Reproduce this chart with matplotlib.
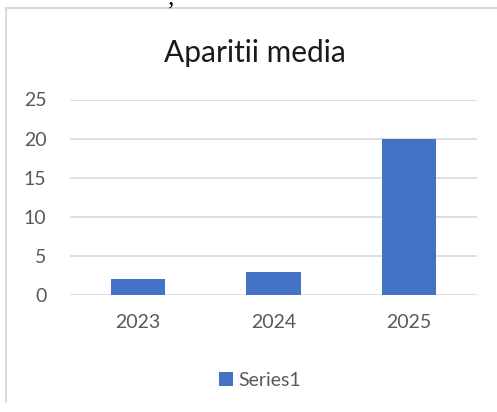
import matplotlib
matplotlib.use("Agg")
import matplotlib.pyplot as plt
from matplotlib.lines import Line2D
import numpy as np

years = ["2023", "2024", "2025"]
values = [2, 3, 20]
series_name = "Series1"
title = "Aparitii media"
y_ticks = [0, 5, 10, 15, 20, 25]

W, H, DPI = 497, 412, 100
bar_color = "#4472C4"
grid_color = "#D9D9D9"
text_color = "#595959"

plt.rcParams["font.family"] = ["Lato", "DejaVu Sans"]

fig = plt.figure(figsize=(W / DPI, H / DPI), dpi=DPI)
ax = fig.add_axes([70 / W, 1 - 295 / H, 407 / W, 195.5 / H])

x = np.arange(len(years))
bars = ax.bar(x, values, width=0.4, color=bar_color, zorder=3, label=series_name)

ax.set_xlim(-0.5, len(years) - 0.5)
ax.set_ylim(0, 25)
ax.set_yticks(y_ticks)
ax.set_xticks(x)
ax.set_xticklabels(years)
ax.grid(axis="y", color=grid_color, linewidth=1.2, zorder=0)
ax.set_axisbelow(True)
for s in ax.spines.values():
    s.set_visible(False)
ax.tick_params(axis="both", length=0, labelsize=14, labelcolor=text_color)
ax.tick_params(axis="y", pad=17)
ax.tick_params(axis="x", pad=14)

fig.text(255 / W, 1 - 53 / H, title, ha="center", va="center",
         fontsize=21.5, color="#1a1a1a")

fig.legend(handles=[bars], labels=[series_name], loc="center",
           bbox_to_anchor=(260 / W, 1 - 380 / H), frameon=False,
           fontsize=14, labelcolor=text_color, handlelength=0.72,
           handleheight=0.72, handletextpad=0.25, borderpad=0)

# chart area border (left and top edges visible)
fig.add_artist(Line2D([5.5 / W, 5.5 / W], [1 - 402 / H, 1 - 7.5 / H],
                      transform=fig.transFigure, color=grid_color, lw=1.5))
fig.add_artist(Line2D([5.5 / W, 1.0], [1 - 7.5 / H, 1 - 7.5 / H],
                      transform=fig.transFigure, color=grid_color, lw=1.5))

# tail of the document text line just above the chart
fig.text(168 / W, 1 - 4 / H, ",", ha="left", va="baseline",
         fontsize=18, family=["Liberation Serif"], color="black")

fig.savefig("out.png", dpi=DPI)
